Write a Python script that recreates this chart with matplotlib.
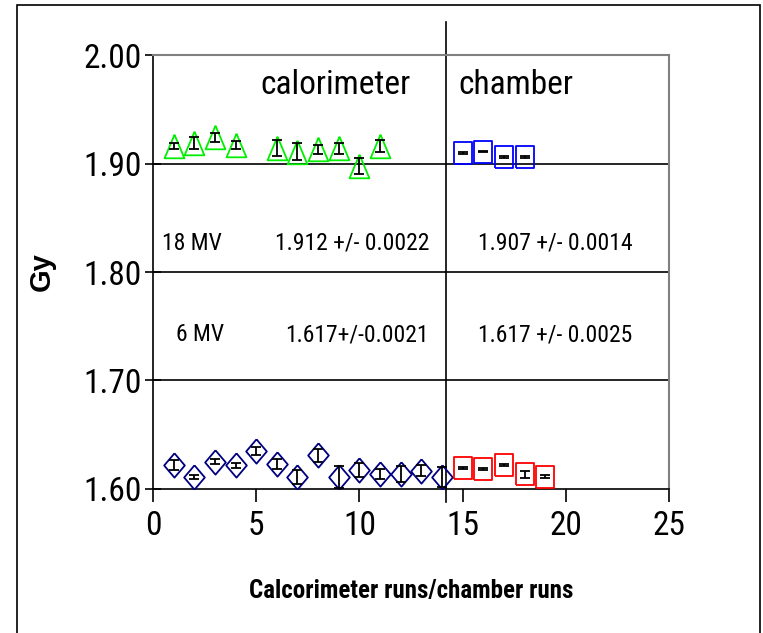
import matplotlib
matplotlib.use("Agg")
from matplotlib import pyplot as plt
from matplotlib import font_manager
from matplotlib.font_manager import FontProperties
from matplotlib.patches import Rectangle

# pick an Arial-Narrow-like face from what is installed
installed = {f.name for f in font_manager.fontManager.ttflist}
narrow = "Liberation Sans"
for cand in ["Liberation Sans Narrow", "Roboto Condensed", "Archivo Narrow"]:
    if cand in installed:
        narrow = cand
        break
plt.rcParams["font.family"] = [narrow, "DejaVu Sans"]

# 18 MV, calorimeter
cal18_x = [1, 2, 3, 4, 6, 7, 8, 9, 10, 11]
cal18_y = [1.916, 1.919, 1.924, 1.917, 1.914, 1.911, 1.913, 1.914, 1.898, 1.916]
cal18_err = [0.0028, 0.0054, 0.0041, 0.0035, 0.0074, 0.0080, 0.0043, 0.0050, 0.0075, 0.0054]

# 18 MV, chamber
ch18_x = [15, 16, 17, 18]
ch18_y = [1.910, 1.911, 1.906, 1.906]
ch18_err = [0.0008, 0.0008, 0.0008, 0.0008]

# 6 MV, calorimeter
cal6_x = [1, 2, 3, 4, 5, 6, 7, 8, 9, 10, 11, 12, 13, 14]
cal6_y = [1.622, 1.611, 1.625, 1.622, 1.635, 1.623, 1.611, 1.631, 1.611, 1.6175,
          1.614, 1.614, 1.617, 1.611]
cal6_err = [0.0043, 0.0020, 0.0023, 0.0022, 0.0035, 0.0050, 0.0065, 0.0060, 0.0098,
            0.0061, 0.0046, 0.0074, 0.0049, 0.0095]

# 6 MV, chamber
ch6_x = [15, 16, 17, 18, 19]
ch6_y = [1.6196, 1.6184, 1.6218, 1.6135, 1.6113]
ch6_err = [0.0008, 0.0008, 0.0008, 0.0030, 0.0015]

x_ticks = [0, 5, 10, 15, 20, 25]
y_ticks = [1.60, 1.70, 1.80, 1.90, 2.00]
divider_x = 14.2

triangle = [(0, 1), (-0.84, -1), (0.84, -1), (0, 1)]
diamond = [(0, 1), (0.85, 0), (0, -1), (-0.85, 0), (0, 1)]
box = [(-0.8, -1), (0.8, -1), (0.8, 1), (-0.8, 1), (-0.8, -1)]


def series(ax, x, y, err, marker, size, color):
    ax.plot(x, y, linestyle="none", marker=marker, markersize=size,
            markerfacecolor="none", markeredgecolor=color, markeredgewidth=1.3,
            zorder=3)
    ax.errorbar(x, y, yerr=err, fmt="none", ecolor="black", elinewidth=1.3,
                capsize=3.5, capthick=1.3, zorder=4)


fig = plt.figure(figsize=(7.63, 6.33), dpi=100)
ax = fig.add_axes([0.2005, 0.2275, 0.6763, 0.6856])

# frame around the whole picture
fig.patches.append(Rectangle((17 / 763, -0.01), 743 / 763, 1.01 - 5 / 633,
                             transform=fig.transFigure, fill=False,
                             edgecolor="black", linewidth=1.2))

series(ax, cal18_x, cal18_y, cal18_err, triangle, 17, "#00EE00")
series(ax, ch18_x, ch18_y, ch18_err, box, 15.5, "#0000FF")
series(ax, cal6_x, cal6_y, cal6_err, diamond, 17.5, "#000080")
series(ax, ch6_x, ch6_y, ch6_err, box, 15.5, "#FF0000")

ax.set_xlim(0, 25)
ax.set_ylim(1.60, 2.00)
ax.set_xticks(x_ticks)
ax.set_yticks(y_ticks)
ax.set_yticklabels(["%.2f" % v for v in y_ticks])

for v in y_ticks[1:-1]:
    ax.axhline(v, color="black", linewidth=1.2, zorder=1)

ax.plot([divider_x, divider_x], [1.588, 2.030], color="black", linewidth=1.2,
        clip_on=False, zorder=2)

ax.spines["top"].set_color("#808080")
ax.spines["right"].set_color("#808080")
ax.spines["top"].set_linewidth(1.5)
ax.spines["right"].set_linewidth(1.5)
ax.spines["left"].set_linewidth(1.2)
ax.spines["bottom"].set_linewidth(1.2)

ax.tick_params(axis="y", direction="inout", length=12, width=1.2, pad=2, labelsize=24)
ax.tick_params(axis="x", direction="out", length=9, width=1.2, pad=6, labelsize=24)

ax.set_xlabel("Calcorimeter runs/chamber runs", fontsize=18, fontweight="bold",
              labelpad=27)
gy_font = FontProperties(family="Liberation Sans", weight="bold", size=21)
ax.set_ylabel("Gy", fontproperties=gy_font, labelpad=20)

ax.text(8.82, 1.972, "calorimeter", fontsize=24, ha="center", va="center")
ax.text(17.6, 1.972, "chamber", fontsize=24, ha="center", va="center")
ax.text(1.9, 1.8267, "18 MV", fontsize=17, ha="center", va="center")
ax.text(9.65, 1.8267, "1.912 +/- 0.0022", fontsize=17, ha="center", va="center")
ax.text(19.5, 1.8267, "1.907 +/- 0.0014", fontsize=17, ha="center", va="center")
ax.text(2.28, 1.742, "6 MV", fontsize=17, ha="center", va="center")
ax.text(9.9, 1.742, "1.617+/-0.0021", fontsize=17, ha="center", va="center")
ax.text(19.5, 1.742, "1.617 +/- 0.0025", fontsize=17, ha="center", va="center")

fig.savefig("out.png", dpi=100)
